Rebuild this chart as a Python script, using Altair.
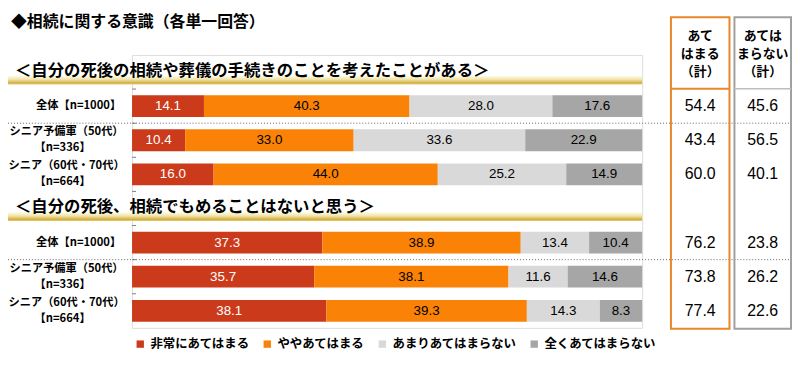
import altair as alt
import pandas as pd

# ---------------- data ----------------
title_text = "◆相続に関する意識（各単一回答）"
row_ids = ["h1", "q1_all", "q1_50", "q1_60", "h2", "q2_all", "q2_50", "q2_60"]
header_rows = ["h1", "h2"]
header_texts = [
    "＜自分の死後の相続や葬儀の手続きのことを考えたことがある＞",
    "＜自分の死後、相続でもめることはないと思う＞",
]
bar_rows = ["q1_all", "q1_50", "q1_60", "q2_all", "q2_50", "q2_60"]
row_labels = [
    "全体【n=1000】",
    "シニア予備軍（50代）\n【n=336】",
    "シニア（60代・70代）\n【n=664】",
    "全体【n=1000】",
    "シニア予備軍（50代）\n【n=336】",
    "シニア（60代・70代）\n【n=664】",
]
categories = ["非常にあてはまる", "ややあてはまる", "あまりあてはまらない", "全くあてはまらない"]
very = [14.1, 10.4, 16.0, 37.3, 35.7, 38.1]
somewhat = [40.3, 33.0, 44.0, 38.9, 38.1, 39.3]
not_much = [28.0, 33.6, 25.2, 13.4, 11.6, 14.3]
not_at_all = [17.6, 22.9, 14.9, 10.4, 14.6, 8.3]
agree_total = [54.4, 43.4, 60.0, 76.2, 73.8, 77.4]
disagree_total = [45.6, 56.5, 40.1, 23.8, 26.2, 22.6]
table_headers = ["あて\nはまる\n（計）", "あては\nまらない\n（計）"]
colors = ["#cc3a1c", "#fa8307", "#d9d9d9", "#a6a6a6"]

# ---------------- tables ----------------
series = [very, somewhat, not_much, not_at_all]
long_rows = []
for ci, (cat, vals) in enumerate(zip(categories, series)):
    for r, v in zip(bar_rows, vals):
        long_rows.append({"row": r, "cat": cat, "order": ci, "value": v})
bars_df = pd.DataFrame(long_rows)

lab_rows = []
for r, l in zip(bar_rows, row_labels):
    parts = l.split("\n")
    if len(parts) == 1:
        lab_rows.append({"row": r, "text": parts[0], "kind": "single"})
    else:
        lab_rows.append({"row": r, "text": parts[0], "kind": "top"})
        lab_rows.append({"row": r, "text": parts[1], "kind": "bottom"})
labels_df = pd.DataFrame(lab_rows)

th_rows = []
for col, h in enumerate(table_headers):
    for li, line in enumerate(h.split("\n")):
        th_rows.append({"col": col, "line": li, "text": line})
th_df = pd.DataFrame(th_rows)

totals_df = pd.DataFrame({"row": bar_rows, "agree": agree_total, "disagree": disagree_total})
headers_df = pd.DataFrame({"row": header_rows, "text": header_texts})
one = pd.DataFrame({"k": [0]})

JP = "Noto Sans CJK JP"
NUM = "Liberation Sans"

yscale = alt.Scale(domain=row_ids, paddingInner=0, paddingOuter=0)
Y = lambda **kw: alt.Y("row:N", scale=yscale, axis=None, **kw)

# header gold band
gold = alt.LinearGradient(
    gradient="linear", x1=0, x2=0, y1=0, y2=1,
    stops=[alt.GradientStop(offset=0, color="#fffef5"),
           alt.GradientStop(offset=0.45, color="#f1e3a6"),
           alt.GradientStop(offset=0.85, color="#d2ae3e"),
           alt.GradientStop(offset=1, color="#e6cf7a")],
)
header_band = alt.Chart(headers_df).mark_bar(size=9, yOffset=8, color=gold).encode(
    x=alt.value(-125), x2=alt.value(514), y=Y())
header_text = alt.Chart(headers_df).mark_text(
    align="left", baseline="middle", font=JP, fontSize=16.5, fontWeight="bold",
    color="#000", yOffset=-1).encode(x=alt.value(-118), y=Y(), text="text:N")

# bars
bars = alt.Chart(bars_df).mark_bar(size=22).encode(
    x=alt.X("value:Q", stack="normalize", scale=alt.Scale(domain=[0, 1]),
            axis=alt.Axis(orient="top", values=[0, 0.25, 0.5, 0.75, 1], format=".0%",
                          labelFont=NUM, labelFontSize=12, labelColor="#000",
                          labelFlush=False, tickSize=4, labelPadding=2,
                          domainColor="#7f7f7f", tickColor="#7f7f7f",
                          grid=False, title=None)),
    y=alt.Y("row:N", scale=yscale,
            axis=alt.Axis(labels=False, ticks=False, domain=True, domainColor="#7f7f7f",
                          title=None, grid=False)),
    color=alt.Color("cat:N", scale=alt.Scale(domain=categories, range=colors),
                    legend=alt.Legend(orient="none", legendX=2, legendY=285,
                                      direction="horizontal", title=None,
                                      symbolType="square", symbolSize=55,
                                      symbolStrokeWidth=0, labelFont=JP,
                                      labelFontSize=12.5, labelFontWeight="bold",
                                      labelColor="#000", columnPadding=11,
                                      labelOffset=4)),
    order=alt.Order("order:Q"),
)

bar_text = alt.Chart(bars_df).transform_stack(
    stack="value", groupby=["row"], as_=["x0", "x1"],
    sort=[alt.SortField("order", order="ascending")], offset="normalize",
).transform_calculate(mid="(datum.x0 + datum.x1) / 2").mark_text(
    font=NUM, fontSize=13.5, baseline="middle").encode(
    x=alt.X("mid:Q", axis=None, scale=alt.Scale(domain=[0, 1])),
    y=Y(),
    text=alt.Text("value:Q", format=".1f"),
    color=alt.condition("datum.order == 0", alt.value("#ffffff"), alt.value("#000000")),
)

# row labels
lab_base = alt.Chart(labels_df)
lab_style = dict(baseline="middle", font=JP, fontSize=11.3, fontWeight="bold", color="#000")
lab_single = lab_base.transform_filter("datum.kind == 'single'").mark_text(
    align="right", **lab_style).encode(x=alt.value(-11), y=Y(), text="text:N")
lab_top = lab_base.transform_filter("datum.kind == 'top'").mark_text(
    align="center", yOffset=-8, **lab_style).encode(x=alt.value(-66), y=Y(), text="text:N")
lab_bottom = lab_base.transform_filter("datum.kind == 'bottom'").mark_text(
    align="center", yOffset=8, **lab_style).encode(x=alt.value(-70), y=Y(), text="text:N")

# inner ticks on left axis and dotted separators
tick_rows = pd.DataFrame({"row": row_ids[1:]})
ticks = alt.Chart(tick_rows).mark_rule(color="#7f7f7f").encode(
    x=alt.value(0), x2=alt.value(4), y=Y(bandPosition=0))
sep_rows = pd.DataFrame({"row": ["q1_50", "q2_50"]})
seps = alt.Chart(sep_rows).mark_rule(color="#666", strokeDash=[1, 2], strokeWidth=1).encode(
    x=alt.value(-125), x2=alt.value(665), y=Y(bandPosition=0))

# right table
box_o = alt.Chart(one).mark_rect(fillOpacity=0, stroke="#e8862a", strokeWidth=2).encode(
    x=alt.value(543), x2=alt.value(602), y=alt.value(-38), y2=alt.value(276))
box_g = alt.Chart(one).mark_rect(fillOpacity=0, stroke="#a0a0a0", strokeWidth=2).encode(
    x=alt.value(607), x2=alt.value(664), y=alt.value(-38), y2=alt.value(276))
div_o = alt.Chart(one).mark_rule(color="#e8862a", strokeWidth=2).encode(
    x=alt.value(543), x2=alt.value(602), y=alt.value(34))
div_g = alt.Chart(one).mark_rule(color="#bdbdbd", strokeWidth=1.5).encode(
    x=alt.value(607), x2=alt.value(664), y=alt.value(34))

th_scale = alt.Scale(domain=[0, 2], range=[-19, 17])
th_o = alt.Chart(th_df).transform_filter("datum.col == 0").mark_text(
    align="center", baseline="middle", font=JP, fontSize=13, fontWeight="bold",
    color="#000").encode(
    x=alt.value(572.5), y=alt.Y("line:Q", scale=th_scale, axis=None), text="text:N")
th_g = alt.Chart(th_df).transform_filter("datum.col == 1").mark_text(
    align="center", baseline="middle", font=JP, fontSize=13, fontWeight="bold",
    color="#000").encode(
    x=alt.value(635.5), y=alt.Y("line:Q", scale=th_scale, axis=None), text="text:N")
th = alt.layer(th_o, th_g).resolve_scale(y="independent")

tv_o = alt.Chart(totals_df).mark_text(font=NUM, fontSize=16, baseline="middle",
                                      color="#000").encode(
    x=alt.value(572.5), y=Y(), text=alt.Text("agree:Q", format=".1f"))
tv_g = alt.Chart(totals_df).mark_text(font=NUM, fontSize=16, baseline="middle",
                                      color="#000").encode(
    x=alt.value(635.5), y=Y(), text=alt.Text("disagree:Q", format=".1f"))

title = alt.Chart(pd.DataFrame({"t": [title_text]})).mark_text(
    align="left", baseline="middle", font=JP, fontSize=16, fontWeight="bold",
    color="#000").encode(x=alt.value(-122), y=alt.value(-33), text="t:N")

main = alt.layer(
    bars, header_band, header_text, bar_text, lab_single, lab_top, lab_bottom, ticks, seps,
    box_o, box_g, div_o, div_g, tv_o, tv_g, title,
)
chart = alt.layer(main, th).resolve_scale(y="independent").properties(
    width=514, height=275,
    autosize=alt.AutoSizeParams(type="none"),
    padding={"left": 125, "top": 46, "right": 151, "bottom": 24},
).configure_view(stroke="#d9d9d9", strokeWidth=1).configure(font=JP)

chart.save("out.html", embed_options={"renderer": "svg", "actions": False})
